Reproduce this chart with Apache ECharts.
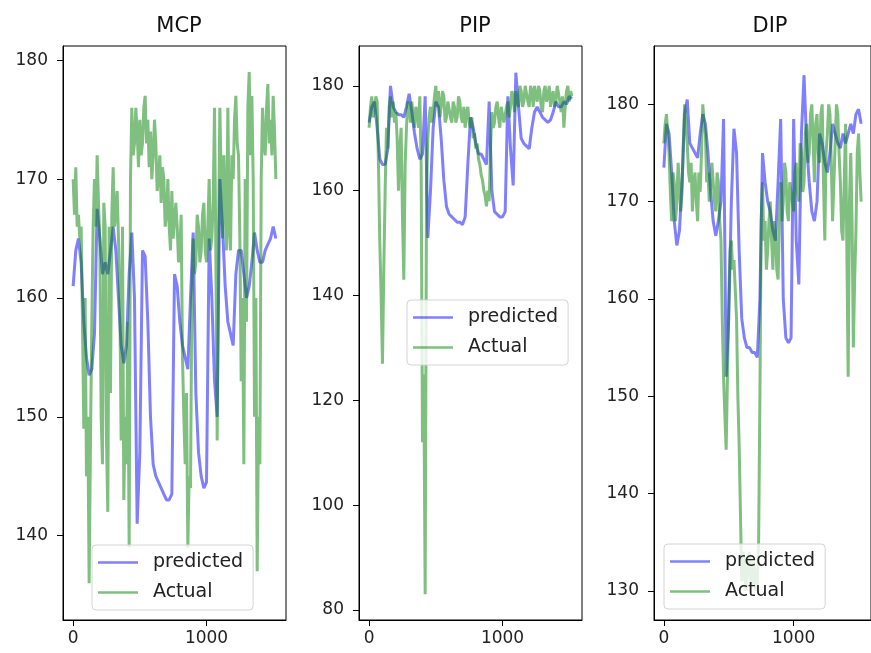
<!DOCTYPE html>
<html>
<head>
<meta charset="utf-8">
<script src="https://cdn.jsdelivr.net/npm/echarts@6/dist/echarts.min.js"></script>
<style>
html,body{margin:0;padding:0;background:#fff;}
#main{width:871px;height:653px;}
</style>
</head>
<body>
<div id="main"></div>
<script>
// predicted is read every 20 steps, actual every 10 steps (it is noisier)
var xsPred = [0,20,40,60,80,100,120,140,160,180,200,220,240,260,280,300,320,340,360,380,400,420,440,460,480,500,520,540,560,580,600,620,640,660,680,700,720,740,760,780,800,820,840,860,880,900,920,940,960,980,1000,1020,1040,1060,1080,1100,1120,1140,1160,1180,1200,1220,1240,1260,1280,1300,1320,1340,1360,1380,1400,1420,1440,1460,1480,1500,1520];
var xsAct = [0,10,20,30,40,50,60,70,80,90,
    100,110,120,130,140,150,160,170,180,190,
    200,210,220,230,240,250,260,270,280,290,
    300,310,320,330,340,350,360,370,380,390,
    400,410,420,430,440,450,460,470,480,490,
    500,510,520,530,540,550,560,570,580,590,
    600,610,620,630,640,650,660,670,680,690,
    700,710,720,730,740,750,760,770,780,790,
    800,810,820,830,840,850,860,870,880,890,
    900,910,920,930,940,950,960,970,980,990,
    1000,1010,1020,1030,1040,1050,1060,1070,1080,1090,
    1100,1110,1120,1130,1140,1150,1160,1170,1180,1190,
    1200,1210,1220,1230,1240,1250,1260,1270,1280,1290,
    1300,1310,1320,1330,1340,1350,1360,1370,1380,1390,
    1400,1410,1420,1430,1440,1450,1460,1470,1480,1490,
    1500,1510,1520];

// MCP
var mcpPred = [161,164,165,163,158,155,153.5,154,157,167.5,165,162,163,162,164,166,164,160,156,154.5,156,162,165.5,160,141,147,164,163.5,158,150,146,145,144.5,144,143.5,143,143,143.5,162,161,158,156,155,154,160,165.5,152,147,145,144,144.5,165,160,153,150,170,166,161,158,157,156,162,164,164,162,160,161,163,165.5,164,163,163,164,164.5,165,166,165];
var mcpAct = [170,167,171,166,167,165,166,158,149,160,
    145,150,136,148,158,166,170,166,172,168,
    165,150,146,168,166,148,142,166,152,167,
    171,166,167,169,165,160,148,166,143,150,
    146,158,139,170,176,172,173,176,174,171,
    175,172,173,176,177,173,175,171,174,170,
    172,175,173,169,170,172,168,171,170,166,
    167,170,166,164,169,165,165,168,166,163,
    164,167,155,150,146,152,139,145,144,160,
    165,162,163,167,166,163,164,167,168,164,
    163,166,170,164,165,168,176,164,148,165,
    176,170,165,172,168,164,176,166,164,172,
    170,175,177,173,172,165,153,160,146,170,
    158,176,179,172,177,170,150,160,137,150,
    146,170,176,173,172,176,178,173,175,172,
    177,174,170];

// PIP
var pipPred = [173,176,177,172,166,165,165,168,180,176,175,174.5,174.5,174,176,178.5,175,171,168,166,167,178,151,160,172,177,176,170,162,157,155.5,155,154.5,154,154,153.5,155,165,174,172,169,167,167,166,165,177,160,156,155.5,155,155,156,178,168,161,182.5,176,170,169,168.5,168,172,175,176,175,174,173.5,173,173.5,175,177,176,176,177,176.5,178,177.5];
var pipAct = [172,176,178,174,175,178,177,165,150,140,
    127,145,160,172,168,176,178,174,177,173,
    175,170,160,168,172,155,143,165,172,177,
    176,173,177,174,172,176,175,172,178,165,
    112,125,83,160,170,174,176,173,175,178,
    180,176,179,174,176,179,178,173,174,177,
    177,174,173,177,176,173,174,178,177,174,
    173,176,172,175,176,173,172,174,170,171,
    168,169,166,165,163,162,160,159,157,160,
    158,168,175,172,173,176,177,174,172,176,
    176,173,173,176,177,174,176,179,178,175,
    179,177,176,180,179,176,177,180,180,177,
    176,180,179,176,180,178,177,180,179,176,
    175,179,180,177,178,180,176,178,179,176,
    177,180,180,177,175,178,172,176,179,180,
    177,179,178];

// DIP
var dipPred = [173.5,178,177,173,168,165.5,167,172,179,180.5,176,175.5,175,174.5,177,179,178,175,171,168,166.5,168,170,178.5,152,158,170,177.5,175,165,158,156,155,155,154.5,154.5,154,160,175,172,170,169,167,166,172,178.5,160,156,155.5,156,178.5,166,161.5,177,183,176,172,169,168,170,177,176,174,173,175,178,177,176,175.5,177,176,177,178,177,179,179.5,178];
var dipAct = [176,178,179,177,175,171,168,173,172,168,
    170,174,174,169,171,176,180,178,176,173,
    172,174,169,172,173,170,168,173,171,175,
    180,178,177,172,173,170,170,174,174,170,
    169,173,172,168,166,158,152,148,144.5,152,
    160,165,166,163,164,161,158,150,145,138,
    131,134,133,130,131,133,134,131,130.5,133,
    132,130,131,135,150,168,172,166,168,163,
    165,168,170,166,163,168,167,163,162,168,
    172,168,170,174,173,169,168,172,172,170,
    169,173,174,171,170,176,175,171,172,177,
    178,174,175,179,180,176,172,178,179,175,
    174,179,180,172,166,175,177,180,179,174,
    168,172,176,180,179,175,172,167,166,172,
    178,165,152,170,175,168,155,162,167,175,
    177,173,170];

var panels = [
    {name:'MCP', pred:mcpPred, act:mcpAct, left:63, ymin:132.9, ymax:181.2, yticks:[140,150,160,170,180], legend:[92,545]},
    {name:'PIP', pred:pipPred, act:pipAct, left:359, ymin:78.1, ymax:187.6, yticks:[80,100,120,140,160,180], legend:[407,300]},
    {name:'DIP', pred:dipPred, act:dipAct, left:654, ymin:127, ymax:186, yticks:[130,140,150,160,170,180], legend:[664,544]}
];

var FONT = 'DejaVu Sans';
var BLUE = 'rgba(0,0,255,0.5)';
var GREEN = 'rgba(0,128,0,0.5)';

function zip(xs, ys){
    var out = [];
    for (var i = 0; i < ys.length; i++) out.push([xs[i], ys[i]]);
    return out;
}

var grids = [], xAxes = [], yAxes = [], series = [], titles = [], legends = [];
panels.forEach(function(p, i){
    grids.push({left:p.left, top:46, width:223, height:574, show:true, borderColor:'#000', borderWidth:1, backgroundColor:'#fff'});
    titles.push({text:p.name, left:p.left + 111, top:11, textAlign:'center',
        textStyle:{fontFamily:FONT, fontSize:21, fontWeight:'normal', color:'#111'}});
    xAxes.push({
        type:'value', gridIndex:i, min:-76, max:1596,
        splitLine:{show:false},
        axisLine:{show:true, onZero:false, lineStyle:{color:'#000'}},
        axisTick:{show:true, length:6, lineStyle:{color:'#000'}, customValues:[0,1000]},
        axisLabel:{customValues:[0,1000], margin:10, fontFamily:FONT, fontSize:17, color:'#222',
            formatter:function(v){ return String(v); }}
    });
    yAxes.push({
        type:'value', gridIndex:i, min:p.ymin, max:p.ymax,
        splitLine:{show:false},
        axisLine:{show:true, onZero:false, lineStyle:{color:'#000'}},
        axisTick:{show:true, length:6, lineStyle:{color:'#000'}, customValues:p.yticks},
        axisLabel:{customValues:p.yticks, margin:15, fontFamily:FONT, fontSize:17, color:'#222'}
    });
    series.push({name:'predicted', type:'line', xAxisIndex:i, yAxisIndex:i, data:zip(xsPred, p.pred),
        showSymbol:false, color:BLUE, lineStyle:{width:3, color:BLUE}});
    series.push({name:'Actual', type:'line', xAxisIndex:i, yAxisIndex:i, data:zip(xsAct, p.act),
        showSymbol:false, color:GREEN, lineStyle:{width:3, color:GREEN}});
    legends.push({
        data:['predicted','Actual'], left:p.legend[0], top:p.legend[1], orient:'vertical',
        icon:'rect', itemWidth:40, itemHeight:2.5, itemGap:11,
        padding:[8,10,8,6], backgroundColor:'rgba(255,255,255,0.8)',
        borderColor:'#d4d4d4', borderWidth:1, borderRadius:4,
        textStyle:{fontFamily:FONT, fontSize:19, color:'#222', padding:[0,0,0,10]}
    });
});

var myChart = echarts.init(document.getElementById('main'));
myChart.setOption({
    animation:false,
    backgroundColor:'#fff',
    title:titles,
    grid:grids,
    xAxis:xAxes,
    yAxis:yAxes,
    legend:legends,
    series:series
});
</script>
</body>
</html>
